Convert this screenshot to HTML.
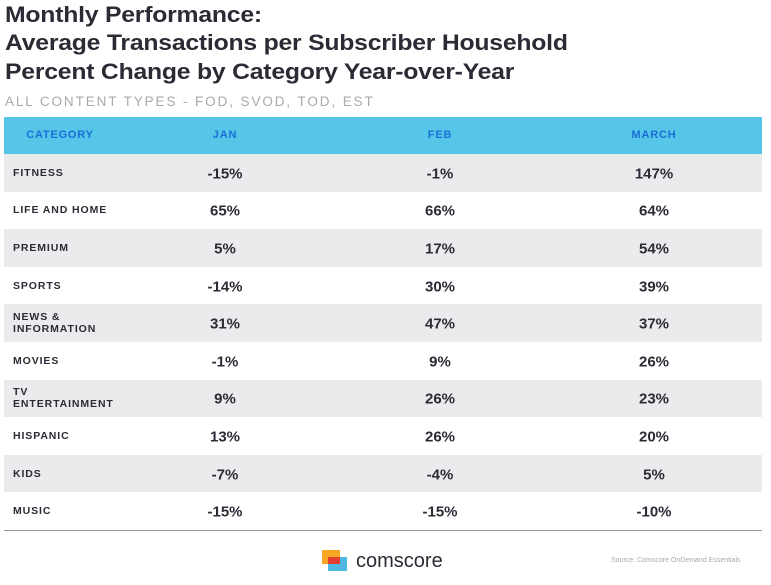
<!DOCTYPE html>
<html><head><meta charset="utf-8"><style>
body{margin:0;width:771px;height:585px;background:#fff;overflow:hidden;position:relative;font-family:"Liberation Sans",sans-serif}
.t{position:absolute;left:5px;font-size:22.5px;font-weight:bold;color:#2b2b36;white-space:nowrap;letter-spacing:-0.2px;transform:scaleX(1.1);transform-origin:0 0}
.sub{position:absolute;left:5px;top:94px;font-size:13.5px;color:#a9a9a9;letter-spacing:1.9px;white-space:nowrap}
.hdr{position:absolute;left:4px;top:117px;width:758px;height:37px;background:#55c5e8}
.hc{position:absolute;top:129px;font-size:11px;font-weight:bold;color:#1a6fd6;letter-spacing:0.8px;transform:translateX(-50%)}
.row{position:absolute;left:4px;width:758px}
.cat{position:absolute;left:13px;font-size:10.5px;font-weight:bold;color:#2b2b36;letter-spacing:0.9px;line-height:12px}
.val{position:absolute;font-size:15px;font-weight:bold;color:#2b2b36;transform:translate(-50%,-50%)}
</style></head><body>
<div class="t" style="top:2px">Monthly Performance:</div>
<div class="t" style="top:30px">Average Transactions per Subscriber Household</div>
<div class="t" style="top:59px">Percent Change by Category Year-over-Year</div>
<div class="sub">ALL CONTENT TYPES - FOD, SVOD, TOD, EST</div>
<div class="hdr"></div>
<div class="hc" style="left:60px">CATEGORY</div>
<div class="hc" style="left:225px">JAN</div>
<div class="hc" style="left:440px">FEB</div>
<div class="hc" style="left:654px">MARCH</div>
<div id="tbl"></div>
<div style="position:absolute;left:4px;top:530px;width:758px;height:1px;background:#999"></div>
<svg style="position:absolute;left:320px;top:549px" width="30" height="25">
<rect x="2" y="1" width="18" height="14" fill="#f6a623"/>
<rect x="8" y="8" width="19" height="14" fill="#4fb8e0"/>
<rect x="8" y="8" width="12" height="7" fill="#e53d2f"/>
</svg>
<div style="position:absolute;left:356px;top:550px;font-size:20px;color:#2b2b36">comscore</div>
<div style="position:absolute;left:611px;top:557px;font-size:7px;color:#aaa">Source: Comscore OnDemand Essentials</div>
<script>
const categories=["FITNESS","LIFE AND HOME","PREMIUM","SPORTS","NEWS &<br>INFORMATION","MOVIES","TV<br>ENTERTAINMENT","HISPANIC","KIDS","MUSIC"];
const jan=[-15,65,5,-14,31,-1,9,13,-7,-15];
const feb=[-1,66,17,30,47,9,26,26,-4,-15];
const march=[147,64,54,39,37,26,23,20,5,-10];
const tbl=document.getElementById('tbl');
const top0=154,rh=37.6,colX=[225,440,654];
categories.forEach((c,i)=>{
  const y=top0+i*rh;
  const r=document.createElement('div');r.className='row';
  
  
  r.style.top=y+'px';r.style.height=rh+'px';r.style.background=i%2===0?'#ebebed':'#fff';
  tbl.appendChild(r);
  const ce=document.createElement('div');ce.className='cat';
  
  
  ce.innerHTML=c;
  const lines=c.includes('<br>')?2:1;
  ce.style.top=(y+rh/2-lines*6)+'px';
  tbl.appendChild(ce);
  [jan,feb,march].forEach((s,j)=>{
    const v=document.createElement('div');v.className='val';
    
    
    v.textContent=s[i]+'%';
    v.style.left=colX[j]+'px';v.style.top=(y+rh/2+1)+'px';
    tbl.appendChild(v);
  });
});
</script>
</body></html>
